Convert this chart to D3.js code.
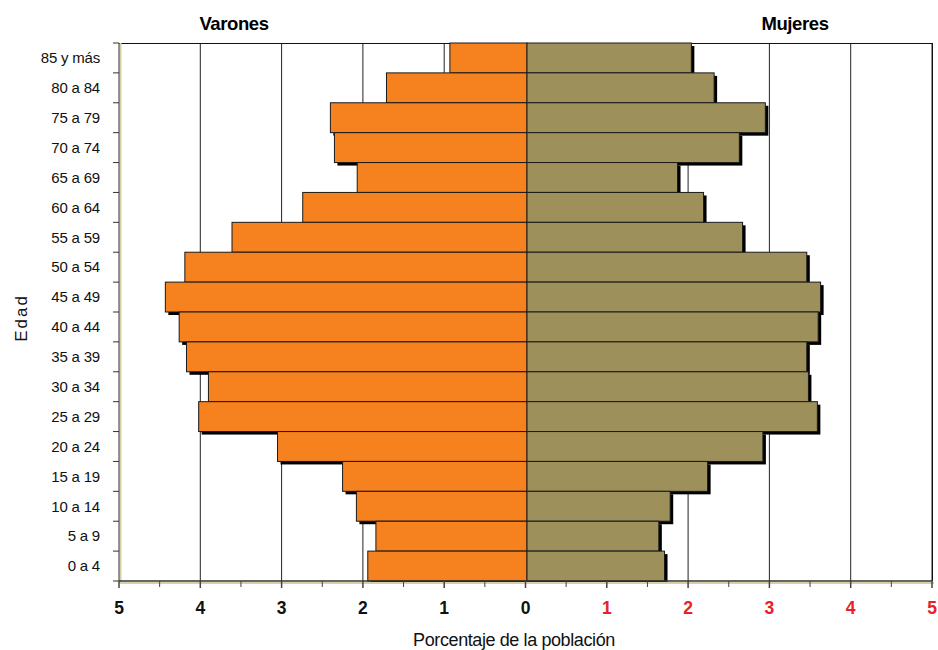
<!DOCTYPE html>
<html><head><meta charset="utf-8">
<script src="https://cdn.jsdelivr.net/npm/d3@7"></script>
<style>body{margin:0;background:#fff}svg{display:block;font-family:Arial,"Liberation Sans",sans-serif}</style>
</head><body><svg id="c" width="938" height="650"></svg>
<script>
const ageGroups = ["85 y más","80 a 84","75 a 79","70 a 74","65 a 69","60 a 64","55 a 59","50 a 54","45 a 49","40 a 44","35 a 39","30 a 34","25 a 29","20 a 24","15 a 19","10 a 14","5 a 9","0 a 4"];
const varones = [0.93,1.71,2.40,2.35,2.07,2.74,3.61,4.19,4.43,4.26,4.17,3.90,4.02,3.05,2.25,2.08,1.84,1.94];
const mujeres = [2.04,2.32,2.95,2.63,1.87,2.19,2.67,3.46,3.63,3.60,3.46,3.48,3.59,2.92,2.24,1.78,1.64,1.71];
const tickValues = [-5,-4,-3,-2,-1,0,1,2,3,4,5];
const minorTicks = [-4.5,-3.5,-2.5,-1.5,-0.5,0.5,1.5,2.5,3.5,4.5];

const svg = d3.select("#c");
const L=119, R=932, T=43, B=581;
const x = d3.scaleLinear().domain([-5,5]).range([L,R]);
const y = d3.scaleBand().domain(ageGroups).range([T,B]).padding(0);
const ORANGE="#F5821F", OLIVE="#9D905A";

svg.append("g").selectAll("line").data(tickValues.filter(v=>v!==0&&v!==-5))
  .join("line").attr("x1",d=>x(d)).attr("x2",d=>x(d)).attr("y1",T).attr("y2",B)
  .attr("stroke","#222").attr("stroke-width",1);
svg.append("line").attr("x1",L).attr("x2",R).attr("y1",T+0.5).attr("y2",T+0.5).attr("stroke","#111");

const rows = ageGroups.map((g,i)=>({g,v:varones[i],m:mujeres[i]}));
const sh=3;
const gs = svg.append("g");
gs.selectAll("rect.sv").data(rows).join("rect")
  .attr("x",d=>x(-d.v)+sh).attr("y",d=>y(d.g)+sh).attr("width",d=>x(0)-x(-d.v)).attr("height",y.bandwidth()).attr("fill","#000");
gs.selectAll("rect.sm").data(rows).join("rect")
  .attr("x",x(0)+sh).attr("y",d=>y(d.g)+sh).attr("width",d=>x(d.m)-x(0)).attr("height",y.bandwidth()).attr("fill","#000");
const gb = svg.append("g");
gb.selectAll("rect.v").data(rows).join("rect")
  .attr("x",d=>x(-d.v)).attr("y",d=>y(d.g)).attr("width",d=>x(0)-x(-d.v)+1.5).attr("height",y.bandwidth())
  .attr("fill",ORANGE).attr("stroke","#1a1a1a").attr("stroke-width",1);
gb.selectAll("rect.m").data(rows).join("rect")
  .attr("x",x(0)+1.5).attr("y",d=>y(d.g)).attr("width",d=>x(d.m)-x(0)-1.5).attr("height",y.bandwidth())
  .attr("fill",OLIVE).attr("stroke","#1a1a1a").attr("stroke-width",1);
svg.append("line").attr("x1",R+0.5).attr("x2",R+0.5).attr("y1",T).attr("y2",B).attr("stroke","#111");

const ya = svg.append("g").attr("transform",`translate(${L},0)`);
ya.append("line").attr("x1",1.5).attr("x2",1.5).attr("y1",T).attr("y2",B+2).attr("stroke","#d6cfa8").attr("stroke-width",2);
ya.append("line").attr("x1",0).attr("x2",0).attr("y1",T).attr("y2",B).attr("stroke","#333");
const bounds = ageGroups.map(g=>y(g)).concat([B]);
ya.selectAll("line.t").data(bounds).join("line").attr("class","t")
  .attr("x1",-6).attr("x2",0).attr("y1",d=>d).attr("y2",d=>d).attr("stroke","#333");
ya.selectAll("text").data(ageGroups).join("text")
  .attr("x",-19).attr("y",d=>y(d)+y.bandwidth()/2).attr("dy","0.35em").attr("text-anchor","end")
  .attr("font-size",15).attr("letter-spacing","-0.2").attr("fill","#111").text(d=>d);

const xa = svg.append("g").attr("transform",`translate(0,${B})`);
xa.append("line").attr("x1",L).attr("x2",R+2).attr("y1",2).attr("y2",2).attr("stroke","#d6cfa8").attr("stroke-width",2);
xa.append("line").attr("x1",L).attr("x2",R).attr("y1",0).attr("y2",0).attr("stroke","#333").attr("stroke-width",1.5);
xa.selectAll("line.maj").data(tickValues).join("line").attr("class","maj")
  .attr("x1",d=>x(d)).attr("x2",d=>x(d)).attr("y1",0).attr("y2",7).attr("stroke","#444").attr("stroke-width",1.5);
xa.selectAll("line.min").data(minorTicks).join("line").attr("class","min")
  .attr("x1",d=>x(d)).attr("x2",d=>x(d)).attr("y1",0).attr("y2",6).attr("stroke","#444");
xa.selectAll("text").data(tickValues).join("text")
  .attr("x",d=>x(d)).attr("y",33).attr("text-anchor","middle").attr("font-size",17.5).attr("font-weight","bold")
  .attr("fill",d=>d>0?"#E8202A":"#111").text(d=>Math.abs(d));

svg.append("text").attr("x",514).attr("y",646).attr("text-anchor","middle").attr("font-size",18)
  .attr("letter-spacing","-0.4").attr("fill","#111").text("Porcentaje de la población");
svg.append("text").attr("transform","translate(27,318) rotate(-90)").attr("text-anchor","middle")
  .attr("font-size",17).attr("letter-spacing","2").attr("fill","#111").text("Edad");
svg.append("text").attr("x",234).attr("y",30).attr("text-anchor","middle").attr("font-size",18.5).attr("font-weight","bold").attr("letter-spacing","-0.4").text("Varones");
svg.append("text").attr("x",795).attr("y",30).attr("text-anchor","middle").attr("font-size",18.5).attr("font-weight","bold").attr("letter-spacing","-0.4").text("Mujeres");
</script></body></html>
